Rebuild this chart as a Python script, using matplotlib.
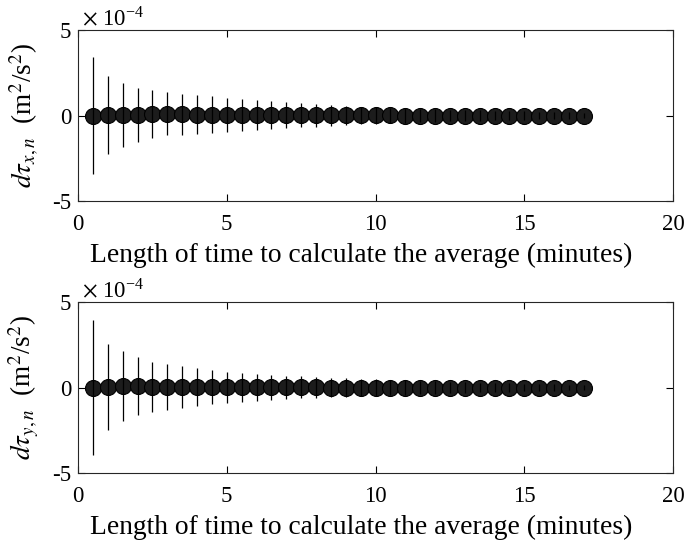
import numpy as np
import matplotlib
matplotlib.use("Agg")
import matplotlib.pyplot as plt

plt.rcParams['font.family'] = ['Liberation Serif', 'DejaVu Serif']
plt.rcParams['mathtext.fontset'] = 'stix'

# averaging window length (minutes)
t = [0.5, 1.0, 1.5, 2.0, 2.5, 3.0, 3.5, 4.0, 4.5, 5.0, 5.5, 6.0, 6.5, 7.0, 7.5, 8.0, 8.5,
     9.0, 9.5, 10.0, 10.5, 11.0, 11.5, 12.0, 12.5, 13.0, 13.5, 14.0, 14.5, 15.0, 15.5, 16.0, 16.5, 17.0]

# d tau_x,n : mean and spread (units of 1e-4 m^2/s^2)
mean_x = [0.0, 0.02, 0.03, 0.02, 0.1, 0.1, 0.07, 0.05, 0.05, 0.04, 0.03, 0.03, 0.02, 0.02, 0.02, 0.01, 0.01,
          0.01, 0.01, 0.01, 0.01, 0.0, 0.0, 0.0, 0.0, 0.0, 0.0, 0.0, 0.0, 0.0, 0.0, 0.0, 0.0, 0.0]
err_x = [3.43, 2.27, 1.87, 1.57, 1.39, 1.25, 1.2, 1.13, 1.09, 0.98, 0.94, 0.88, 0.82, 0.76, 0.69, 0.67, 0.61,
         0.56, 0.51, 0.48, 0.45, 0.42, 0.4, 0.37, 0.35, 0.32, 0.3, 0.28, 0.26, 0.24, 0.22, 0.2, 0.18, 0.15]

# d tau_y,n
mean_y = [0.0, 0.04, 0.08, 0.07, 0.04, 0.03, 0.03, 0.02, 0.02, 0.02, 0.01, 0.01, 0.01, 0.01, 0.01, 0.01, 0.0,
          0.0, 0.0, 0.0, 0.0, 0.0, 0.0, 0.0, 0.0, 0.0, 0.0, 0.0, 0.0, 0.0, 0.0, 0.0, 0.0, 0.0]
err_y = [3.94, 2.5, 2.03, 1.69, 1.47, 1.35, 1.22, 1.13, 1.01, 0.9, 0.86, 0.8, 0.72, 0.68, 0.64, 0.6, 0.56,
         0.53, 0.5, 0.47, 0.44, 0.41, 0.39, 0.36, 0.34, 0.31, 0.29, 0.27, 0.25, 0.23, 0.21, 0.19, 0.17, 0.14]

scale = 1e-4
fig = plt.figure(figsize=(6.85, 5.41), dpi=100)
ax1 = fig.add_axes([78 / 685, 1 - 201 / 541, 595 / 685, 171 / 541])
ax2 = fig.add_axes([78 / 685, 1 - 473 / 541, 595 / 685, 171 / 541])

panels = [(ax1, mean_x, err_x, r'$d\tau_{x,n}$  (m$^2$/s$^2$)'),
          (ax2, mean_y, err_y, r'$d\tau_{y,n}$  (m$^2$/s$^2$)')]

for ax, m, e, lab in panels:
    m = np.array(m) * scale
    e = np.array(e) * scale
    ax.plot(t, m, 'o', ms=11.5, mfc='#1c1c1c', mec='black', mew=0.8, zorder=2)
    ax.errorbar(t, m, yerr=e, fmt='none', ecolor='black', elinewidth=0.9, capsize=0, zorder=3)
    ax.set_xlim(0, 20)
    ax.set_ylim(-5e-4, 5e-4)
    ax.set_xticks([0, 5, 10, 15, 20])
    ax.set_yticks([-5e-4, 0, 5e-4])
    ax.set_yticklabels(['-5', '0', '5'])
    ax.tick_params(direction='in', top=True, right=True, labelsize=16.5, length=5, width=0.8)
    ax.tick_params(axis='x', pad=9)
    ax.tick_params(axis='y', pad=5)
    for s in ax.spines.values():
        s.set_linewidth(0.8)
        s.set_color('#262626')
    ax.set_xlabel('Length of time to calculate the average (minutes)', fontsize=19.8)
    ax.xaxis.set_label_coords(0.476, -0.245)
    ax.set_ylabel(lab, fontsize=19.5, labelpad=8)
    ax.text(0.006, 1.0, r'$\times$ 10$^{\mathregular{-4}}$', transform=ax.transAxes,
            fontsize=16.5, ha='left', va='bottom')

fig.savefig('out.png', dpi=100)
